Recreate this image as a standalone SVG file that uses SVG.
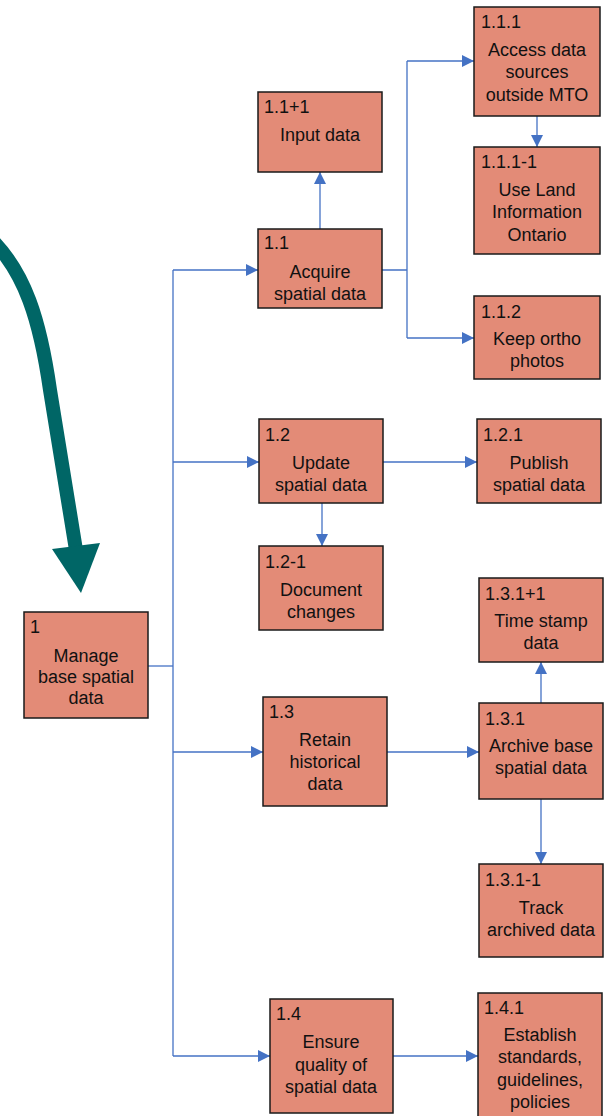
<svg xmlns="http://www.w3.org/2000/svg" width="604" height="1116" viewBox="0 0 604 1116">
  <defs>
    <marker id="arrow" markerUnits="userSpaceOnUse" markerWidth="12" markerHeight="12" refX="12" refY="6" orient="auto">
      <path d="M0,0 L12,6 L0,12 z" fill="#4472C4"/>
    </marker>
    <style>
      .box { fill: #E38B77; stroke: #1a1a1a; stroke-width: 1.5; }
      .id { font-family: "Liberation Sans", Arial, sans-serif; font-size: 18px; fill: #111; }
      .lbl { font-family: "Liberation Sans", Arial, sans-serif; font-size: 18px; fill: #111; text-anchor: middle; }
      .conn { fill: none; stroke: #4472C4; stroke-width: 1.3; }
      .arr { marker-end: url(#arrow); }
    </style>
  </defs>
  <rect width="604" height="1116" fill="#ffffff"/>

  <!-- large teal curved arrow -->
  <g id="teal-arrow">
    <path d="M -10,238 C 25,272 40,320 50,390 L 76,550" fill="none" stroke="#006666" stroke-width="14"/>
    <polygon points="52,549 100,543 81,593" fill="#006666"/>
  </g>

  <!-- connectors -->
  <g id="connectors">
    <path class="conn" d="M148,666 H173"/>
    <path class="conn" d="M173,270 V1056"/>
    <path class="conn arr" d="M173,270 H258"/>
    <path class="conn arr" d="M173,462 H259"/>
    <path class="conn arr" d="M173,752 H263"/>
    <path class="conn arr" d="M173,1056 H270"/>
    <path class="conn arr" d="M320,229 V172"/>
    <path class="conn" d="M382,270 H407 M407,61 V338"/>
    <path class="conn arr" d="M407,61 H474"/>
    <path class="conn arr" d="M407,338 H474"/>
    <path class="conn arr" d="M537,116 V147"/>
    <path class="conn arr" d="M383,462 H477"/>
    <path class="conn arr" d="M322,503 V546"/>
    <path class="conn arr" d="M387,752 H479"/>
    <path class="conn arr" d="M541,703 V662"/>
    <path class="conn arr" d="M541,799 V864"/>
    <path class="conn arr" d="M393,1056 H478"/>
  </g>

  <!-- nodes -->
  <g id="n1">
    <rect class="box" x="24" y="612" width="124" height="106"/>
    <text class="id" x="30" y="633">1</text>
    <text class="lbl" x="86" y="662">Manage</text>
    <text class="lbl" x="86" y="683">base spatial</text>
    <text class="lbl" x="86" y="704">data</text>
  </g>
  <g id="n1-1">
    <rect class="box" x="258" y="229" width="124" height="79"/>
    <text class="id" x="264" y="249">1.1</text>
    <text class="lbl" x="320" y="278">Acquire</text>
    <text class="lbl" x="320" y="300">spatial data</text>
  </g>
  <g id="n1-1p1">
    <rect class="box" x="258" y="92" width="124" height="80"/>
    <text class="id" x="264" y="113">1.1+1</text>
    <text class="lbl" x="320" y="141">Input data</text>
  </g>
  <g id="n1-1-1">
    <rect class="box" x="474" y="7" width="126" height="109"/>
    <text class="id" x="481" y="28">1.1.1</text>
    <text class="lbl" x="537" y="56">Access data</text>
    <text class="lbl" x="537" y="78">sources</text>
    <text class="lbl" x="537" y="101">outside MTO</text>
  </g>
  <g id="n1-1-1m1">
    <rect class="box" x="474" y="147" width="126" height="107"/>
    <text class="id" x="481" y="168">1.1.1-1</text>
    <text class="lbl" x="537" y="196">Use Land</text>
    <text class="lbl" x="537" y="218">Information</text>
    <text class="lbl" x="537" y="241">Ontario</text>
  </g>
  <g id="n1-1-2">
    <rect class="box" x="474" y="296" width="126" height="83"/>
    <text class="id" x="481" y="318">1.1.2</text>
    <text class="lbl" x="537" y="345">Keep ortho</text>
    <text class="lbl" x="537" y="367">photos</text>
  </g>
  <g id="n1-2">
    <rect class="box" x="259" y="419" width="124" height="84"/>
    <text class="id" x="265" y="441">1.2</text>
    <text class="lbl" x="321" y="469">Update</text>
    <text class="lbl" x="321" y="491">spatial data</text>
  </g>
  <g id="n1-2-1">
    <rect class="box" x="477" y="419" width="124" height="84"/>
    <text class="id" x="483" y="441">1.2.1</text>
    <text class="lbl" x="539" y="469">Publish</text>
    <text class="lbl" x="539" y="491">spatial data</text>
  </g>
  <g id="n1-2m1">
    <rect class="box" x="259" y="546" width="124" height="84"/>
    <text class="id" x="265" y="568">1.2-1</text>
    <text class="lbl" x="321" y="596">Document</text>
    <text class="lbl" x="321" y="618">changes</text>
  </g>
  <g id="n1-3-1p1">
    <rect class="box" x="479" y="578" width="124" height="84"/>
    <text class="id" x="485" y="600">1.3.1+1</text>
    <text class="lbl" x="541" y="627">Time stamp</text>
    <text class="lbl" x="541" y="649">data</text>
  </g>
  <g id="n1-3">
    <rect class="box" x="263" y="697" width="124" height="109"/>
    <text class="id" x="269" y="718">1.3</text>
    <text class="lbl" x="325" y="746">Retain</text>
    <text class="lbl" x="325" y="768">historical</text>
    <text class="lbl" x="325" y="790">data</text>
  </g>
  <g id="n1-3-1">
    <rect class="box" x="479" y="703" width="124" height="96"/>
    <text class="id" x="485" y="725">1.3.1</text>
    <text class="lbl" x="541" y="752">Archive base</text>
    <text class="lbl" x="541" y="774">spatial data</text>
  </g>
  <g id="n1-3-1m1">
    <rect class="box" x="479" y="864" width="124" height="93"/>
    <text class="id" x="485" y="886">1.3.1-1</text>
    <text class="lbl" x="541" y="914">Track</text>
    <text class="lbl" x="541" y="936">archived data</text>
  </g>
  <g id="n1-4">
    <rect class="box" x="270" y="999" width="123" height="114"/>
    <text class="id" x="276" y="1020">1.4</text>
    <text class="lbl" x="331" y="1048">Ensure</text>
    <text class="lbl" x="331" y="1071">quality of</text>
    <text class="lbl" x="331" y="1093">spatial data</text>
  </g>
  <g id="n1-4-1">
    <rect class="box" x="478" y="993" width="124" height="130"/>
    <text class="id" x="484" y="1014">1.4.1</text>
    <text class="lbl" x="540" y="1041">Establish</text>
    <text class="lbl" x="540" y="1063">standards,</text>
    <text class="lbl" x="540" y="1086">guidelines,</text>
    <text class="lbl" x="540" y="1108">policies</text>
  </g>
</svg>
